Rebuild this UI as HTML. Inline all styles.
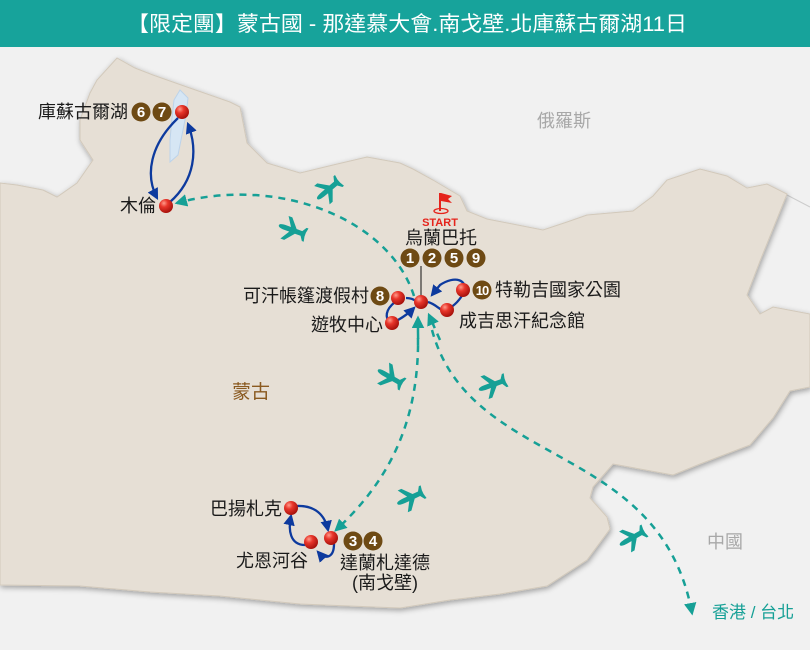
<!DOCTYPE html>
<html><head><meta charset="utf-8"><style>
body{margin:0;width:810px;height:650px;overflow:hidden;background:#f1f1f1}
svg{display:block}
text{font-family:"Liberation Sans","Noto Sans CJK TC",sans-serif}
</style></head><body>
<svg width="810" height="650" viewBox="0 0 810 650" xmlns="http://www.w3.org/2000/svg">
<defs>
<filter id="sh" x="-5%" y="-5%" width="110%" height="110%"><feGaussianBlur in="SourceAlpha" stdDeviation="3"/><feOffset dx="1" dy="2"/><feComponentTransfer><feFuncA type="linear" slope="0.35"/></feComponentTransfer><feMerge><feMergeNode/><feMergeNode in="SourceGraphic"/></feMerge></filter>
<radialGradient id="rd" cx="0.35" cy="0.3" r="0.7"><stop offset="0" stop-color="#ff9a8a"/><stop offset="0.4" stop-color="#e8352a"/><stop offset="1" stop-color="#a8120c"/></radialGradient>
<marker id="ab" viewBox="0 0 10 10" refX="8" refY="5" markerWidth="5" markerHeight="5" orient="auto"><path d="M0,0L10,5L0,10z" fill="#0d3a9e"/></marker>
<marker id="at" viewBox="0 0 10 10" refX="8" refY="5" markerWidth="5" markerHeight="5" orient="auto"><path d="M0,0L10,5L0,10z" fill="#16a096"/></marker>
<g id="pl"><path d="M-14,0 C-14,-2 -10,-2.5 -6,-2.5 L-2,-2.5 L-8,-12 L-4,-12 L4,-2.5 L10,-2.5 L13,-7 L15,-7 L14,-2 L14,2 L15,7 L13,7 L10,2.5 L4,2.5 L-4,12 L-8,12 L-2,2.5 L-6,2.5 C-10,2.5 -14,2 -14,0z" fill="#16a096"/></g>
</defs>
<rect x="0" y="0" width="810" height="47" fill="#17a39b"/>
<text x="407" y="31" font-size="21" fill="#fff" text-anchor="middle" textLength="560" lengthAdjust="spacingAndGlyphs">【限定團】蒙古國 - 那達慕大會.南戈壁.北庫蘇古爾湖11日</text>
<line x1="787" y1="195" x2="810" y2="207" stroke="#ccc" stroke-width="1"/>
<path filter="url(#sh)" fill="#e6dfd5" stroke="#d2c9bb" stroke-width="1" d="M0,183 L17,185 L43,190 L57,197 L77,183 L93,160 L80,140 L80,120 L90,93 L97,80 L117,58 L135,68 L153,75 L187,87 L230,102 L240,107 L247,143 L267,163 L300,173 L333,165 L367,157 L400,163 L413,169 L433,180 L460,196 L467,211 L487,219 L543,230 L567,222 L587,215 L633,211 L653,196 L667,180 L700,169 L727,176 L747,188 L767,184 L787,194 L760,261 L747,295 L760,314 L773,307 L810,314 L810,387 L790,391 L773,418 L750,445 L700,464 L673,475 L613,464 L593,487 L590,498 L607,517 L610,529 L587,560 L547,586 L500,594 L450,600 L400,608 L300,604 L220,596 L150,592 L80,586 L0,585 Z"/>
<path d="M180,90 L188,98 L186,115 L182,135 L178,155 L170,162 L170,140 L172,118 L174,100Z" fill="#d6e6f4" stroke="#bcd3ea" stroke-width="1"/>
<text x="537" y="127" font-size="18" fill="#a8a8a8">俄羅斯</text>
<text x="707" y="548" font-size="18" fill="#a8a8a8">中國</text>
<text x="232" y="398" font-size="19" fill="#8a5a20">蒙古</text>
<g fill="none" stroke="#16a096" stroke-width="2.5" stroke-dasharray="7,6">
<path d="M414,296 C390,220 280,175 177,203" marker-end="url(#at)"/>
<path d="M418,332 C420,420 390,480 336,530" marker-end="url(#at)"/>
<path d="M418,345 L418,318" marker-end="url(#at)"/>
<path d="M432,330 C470,470 660,440 692,613" marker-end="url(#at)"/>
<path d="M440,340 L429,315" marker-end="url(#at)"/>
</g>
<g fill="none" stroke="#0d3a9e" stroke-width="2.3">
<path d="M178,118 C150,145 145,175 157,198" marker-end="url(#ab)"/>
<path d="M170,202 C195,180 198,150 188,124" marker-end="url(#ab)"/>
<path d="M395,302 C385,310 385,318 390,322"/>
<path d="M398,320 C405,316 410,312 414,308" marker-end="url(#ab)"/>
<path d="M428,302 C438,305 440,312 447,310 C455,305 460,300 464,292 C468,280 455,275 440,285 L432,295" marker-end="url(#ab)"/>
<path d="M406,298 C412,298 414,300 418,302"/>
<path d="M296,506 C315,505 325,515 328,530" marker-end="url(#ab)"/>
<path d="M334,544 C334,558 325,560 318,552" marker-end="url(#ab)"/>
<path d="M305,545 C290,545 288,530 291,516" marker-end="url(#ab)"/>
</g>
<line x1="421" y1="266" x2="421" y2="298" stroke="#111" stroke-width="1"/>
<use href="#pl" transform="translate(328,190) rotate(-40)"/>
<use href="#pl" transform="translate(292,230) rotate(20)"/>
<use href="#pl" transform="translate(390,377) rotate(30)"/>
<use href="#pl" transform="translate(492,385) rotate(-20)"/>
<use href="#pl" transform="translate(410,498) rotate(-25)"/>
<use href="#pl" transform="translate(632,538) rotate(-30)"/>
<g fill="url(#rd)">
<circle cx="182" cy="112" r="7"/><circle cx="166" cy="206" r="7"/>
<circle cx="421" cy="302" r="7"/><circle cx="398" cy="298" r="7"/><circle cx="392" cy="323" r="7"/>
<circle cx="447" cy="310" r="7"/><circle cx="463" cy="290" r="7"/>
<circle cx="291" cy="508" r="7"/><circle cx="311" cy="542" r="7"/><circle cx="331" cy="538" r="7"/>
</g>
<ellipse cx="441" cy="211" rx="7" ry="2.5" fill="none" stroke="#e5231b" stroke-width="1.3"/>
<line x1="440" y1="193" x2="440" y2="211" stroke="#e5231b" stroke-width="2"/>
<path d="M441,193 L452,196 L448,199 L452,203 L441,201Z" fill="#e5231b"/>
<text x="440" y="226" font-size="11" font-weight="bold" fill="#e5231b" text-anchor="middle">START</text>
<g font-size="18" fill="#1a1a1a">
<text x="38" y="118">庫蘇古爾湖</text>
<text x="120" y="212">木倫</text>
<text x="405" y="244">烏蘭巴托</text>
<text x="243" y="302">可汗帳篷渡假村</text>
<text x="311" y="331">遊牧中心</text>
<text x="495" y="296">特勒吉國家公園</text>
<text x="459" y="327">成吉思汗紀念館</text>
<text x="210" y="515">巴揚札克</text>
<text x="236" y="567">尤恩河谷</text>
<text x="340" y="569">達蘭札達德</text>
<text x="352" y="589">(南戈壁)</text>
</g>
<text x="712" y="618" font-size="17" fill="#16a096">香港 / 台北</text>
<g fill="#6e4a14">
<circle cx="141" cy="112" r="9.5"/><circle cx="162" cy="112" r="9.5"/>
<circle cx="410" cy="258" r="9.5"/><circle cx="432" cy="258" r="9.5"/><circle cx="454" cy="258" r="9.5"/><circle cx="476" cy="258" r="9.5"/>
<circle cx="380" cy="296" r="9.5"/><circle cx="482" cy="290" r="9.5"/>
<circle cx="353" cy="541" r="9.5"/><circle cx="373" cy="541" r="9.5"/>
</g>
<g font-size="15" font-weight="bold" fill="#fff" text-anchor="middle">
<text x="141" y="117">6</text><text x="162" y="117">7</text>
<text x="410" y="263">1</text><text x="432" y="263">2</text><text x="454" y="263">5</text><text x="476" y="263">9</text>
<text x="380" y="301">8</text><text x="482" y="295" font-size="13" letter-spacing="-1">10</text>
<text x="353" y="546">3</text><text x="373" y="546">4</text>
</g>
</svg>
</body></html>
